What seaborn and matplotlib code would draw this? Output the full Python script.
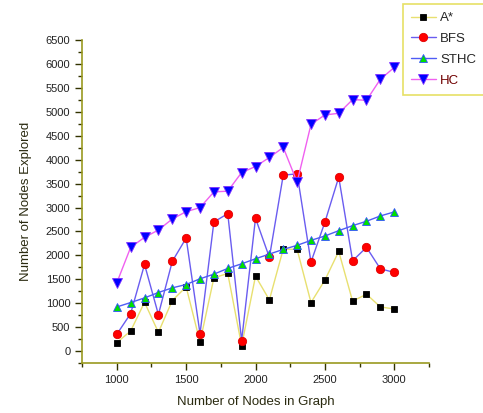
import numpy as np
import pandas as pd
import matplotlib
matplotlib.use("Agg")
import matplotlib.pyplot as plt
import seaborn as sns
from matplotlib.ticker import MultipleLocator

nodes = [1000, 1100, 1200, 1300, 1400, 1500, 1600, 1700, 1800, 1900, 2000,
         2100, 2200, 2300, 2400, 2500, 2600, 2700, 2800, 2900, 3000]

astar = [176, 420, 1020, 392, 1056, 1342, 189, 1530, 1622, 113, 1566,
         1069, 2132, 2125, 1014, 1482, 2083, 1042, 1189, 922, 880]
bfs = [350, 784, 1811, 763, 1874, 2362, 364, 2698, 2872, 218, 2776,
       1958, 3677, 3704, 1860, 2692, 3635, 1887, 2168, 1719, 1644]
sthc = [922, 1014, 1111, 1224, 1321, 1391, 1510, 1608, 1727, 1824, 1929,
        2027, 2125, 2210, 2314, 2405, 2516, 2621, 2713, 2824, 2908]
hc = [1426, 2168, 2377, 2530, 2761, 2914, 2998, 3327, 3342, 3732, 3857,
      4046, 4256, 3530, 4738, 4935, 4969, 5256, 5241, 5681, 5927]

sns.set_style("ticks")
plt.rcParams['font.family'] = ['Liberation Sans', 'DejaVu Sans']

fig = plt.figure(figsize=(4.83, 4.13), dpi=100)
ax = fig.add_axes([0.170, 0.121, 0.718, 0.782])

axis_col = "#9a9a20"

# name, values, line colour, marker, face, edge, size
styles = [
    ("A*", astar, "#e8e070", "s", "black", "black", 4.5),
    ("BFS", bfs, "#6a5cf0", "o", "red", "#e00000", 6),
    ("STHC", sthc, "#4f5cf5", "^", "#00e000", "#3050ff", 6),
    ("HC", hc, "#f060f0", "v", "#0000ff", "#8030ff", 6.5),
]

for name, vals, lc, mk, mfc, mec, ms in styles:
    sns.lineplot(x=nodes, y=vals, ax=ax, color=lc, linewidth=1.0,
                 marker=mk, markerfacecolor=mfc, markeredgecolor=mec,
                 markersize=ms, markeredgewidth=0.6, label=name)

ax.set_xlim(750, 3250)
ax.set_ylim(-250, 6500)
ax.xaxis.set_major_locator(MultipleLocator(500))
ax.xaxis.set_minor_locator(MultipleLocator(250))
ax.yaxis.set_major_locator(MultipleLocator(500))
ax.yaxis.set_minor_locator(MultipleLocator(250))

sns.despine(ax=ax)
for s in ["left", "bottom"]:
    ax.spines[s].set_color(axis_col)
    ax.spines[s].set_linewidth(1.2)
ax.tick_params(which="major", direction="out", length=5, width=1,
               color="#333300", labelsize=8, labelcolor="#222222")
ax.tick_params(which="minor", direction="out", length=3, width=1,
               color="#333300")

ax.set_xlabel("Number of Nodes in Graph", fontsize=9.5, color="#2a2a10", labelpad=8)
ax.set_ylabel("Number of Nodes Explored", fontsize=9.5, color="#2a2a10", labelpad=10)

h, l = ax.get_legend_handles_labels()
ax.get_legend().remove()
leg = fig.legend(h, l, loc="upper left", bbox_to_anchor=(403 / 483, 1 - 4 / 413),
                 fontsize=9.5, frameon=True, fancybox=False, handlelength=1.9,
                 borderpad=0.6, borderaxespad=0, labelspacing=0.65,
                 handletextpad=0.3)
leg.get_frame().set_edgecolor("#e0d840")
leg.get_frame().set_linewidth(1.2)
leg.get_texts()[3].set_color("#700000")

fig.savefig("out.png", dpi=100)
